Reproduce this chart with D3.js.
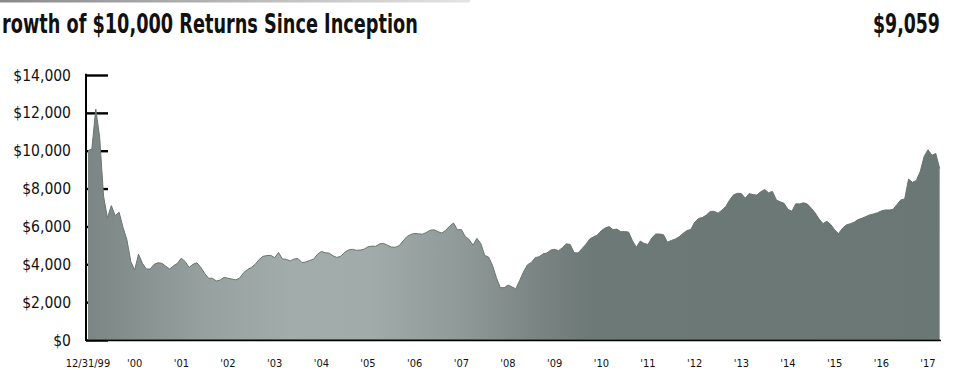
<!DOCTYPE html>
<html>
<head>
<meta charset="utf-8">
<script src="https://cdn.jsdelivr.net/npm/d3@7/dist/d3.min.js"></script>
<style>
  html, body { margin: 0; padding: 0; background: #fff; }
  svg { display: block; }
</style>
</head>
<body>
<svg id="chart" width="958" height="370"></svg>
<script>
// Monthly account value of a $10,000 investment, starting 12/31/99
const values = [
  10000, 10100, 12200, 10700, 7600, 6450, 7100, 6570, 6750, 5950, 5300, 4150,
  3700, 4530, 4050, 3750, 3750, 4000, 4080, 4050, 3900, 3750, 3920, 4050,
  4320, 4140, 3830, 4000, 4080, 3840, 3520, 3260, 3260, 3120, 3170, 3310,
  3260, 3220, 3180, 3270, 3550, 3720, 3830, 4000, 4250, 4420, 4460, 4470,
  4350, 4620, 4280, 4260, 4180, 4280, 4300, 4090, 4120, 4200, 4270, 4530,
  4680, 4610, 4590, 4450, 4360, 4430, 4630, 4760, 4790, 4740, 4750, 4800,
  4920, 4960, 4950, 5080, 5100, 5010, 4910, 4900, 4980, 5230, 5460, 5580,
  5630, 5610, 5590, 5680, 5800, 5820, 5720, 5650, 5800, 6020, 6180, 5820,
  5840, 5470, 5310, 5010, 5370, 5100, 4470, 4380, 3950, 3300, 2770, 2760,
  2900, 2810, 2700, 3150, 3600, 3970, 4100, 4350, 4400, 4550, 4600, 4750,
  4790, 4720, 4880, 5080, 5050, 4610, 4600, 4820, 5050, 5330, 5450, 5550,
  5780, 5920, 5990, 5830, 5860, 5720, 5730, 5700, 5250, 4900, 5230, 5100,
  5050, 5400, 5600, 5600, 5560, 5170, 5260, 5330, 5450, 5630, 5780, 5840,
  6220, 6420, 6470, 6600, 6790, 6800, 6700, 6860, 7050, 7400, 7670, 7750,
  7740, 7490, 7740, 7680, 7660, 7830, 7950, 7780, 7850, 7400, 7300, 7220,
  6900, 6800, 7200, 7190, 7250, 7180, 6960, 6710, 6390, 6150, 6270, 6100,
  5820, 5620, 5900, 6080, 6140, 6220, 6360, 6430, 6520, 6610, 6660, 6720,
  6820, 6870, 6870, 6900, 7150, 7400, 7450, 8500, 8330, 8430, 8900, 9700,
  10050, 9760, 9850, 9059
];

const xTickLabels = ["12/31/99", "'00", "'01", "'02", "'03", "'04", "'05", "'06", "'07", "'08",
                     "'09", "'10", "'11", "'12", "'13", "'14", "'15", "'16", "'17"];
const yTicks = [0, 2000, 4000, 6000, 8000, 10000, 12000, 14000];

const titleText = "rowth of $10,000 Returns Since Inception";
const endingValue = 9059;

const svg = d3.select("#chart");

const x = d3.scaleLinear().domain([0, 216]).range([88, 928]);
const y = d3.scaleLinear().domain([0, 14000]).range([340, 75]);

const defs = svg.append("defs");

// thin rule across the top of the panel
const ruleGrad = defs.append("linearGradient").attr("id", "ruleGrad")
  .attr("x1", "0%").attr("x2", "100%");
ruleGrad.append("stop").attr("offset", "0%").attr("stop-color", "#8a8a8a");
ruleGrad.append("stop").attr("offset", "100%").attr("stop-color", "#e4e4e4");
svg.append("rect").attr("x", 0).attr("y", 0).attr("width", 470).attr("height", 2.5)
  .attr("fill", "url(#ruleGrad)");

// area shading
const areaGrad = defs.append("linearGradient").attr("id", "areaGrad")
  .attr("gradientUnits", "userSpaceOnUse")
  .attr("x1", 88).attr("y1", 0).attr("x2", 940).attr("y2", 0);
[
  [0.00, "#7b8684"],
  [0.14, "#97a19f"],
  [0.24, "#a2acaa"],
  [0.33, "#a1aba9"],
  [0.44, "#8f9a98"],
  [0.52, "#7c8785"],
  [0.59, "#6d7977"],
  [1.00, "#6b7775"]
].forEach(([o, c]) => areaGrad.append("stop").attr("offset", o).attr("stop-color", c));

// title row, narrow bold face stretched to the panel's heading width
const fontBold = "'Liberation Sans Narrow', 'DejaVu Sans Condensed', sans-serif";
function fitText(sel, x0, width) {
  const w = sel.node().getComputedTextLength();
  sel.attr("transform", `translate(${x0},0) scale(${width / w},1)`);
}
const title = svg.append("text")
  .attr("y", 33)
  .attr("font-family", fontBold)
  .attr("font-weight", "bold")
  .attr("font-size", 26)
  .attr("fill", "#111")
  .text(titleText);
fitText(title, 2, 416);

const valText = svg.append("text")
  .attr("y", 33)
  .attr("font-family", fontBold)
  .attr("font-weight", "bold")
  .attr("font-size", 26)
  .attr("fill", "#111")
  .text(d3.format("$,")(endingValue));
fitText(valText, 873, 67);

// y axis: inner ticks with labels to the left
const yAxis = d3.axisRight(y).tickValues(yTicks).tickSize(22).tickFormat("");
const yg = svg.append("g").attr("transform", "translate(86,0)").call(yAxis);
yg.select(".domain").remove();
yg.selectAll(".tick line").attr("stroke", "#000").attr("stroke-width", 2.4);
svg.append("line")
  .attr("x1", 86).attr("x2", 86).attr("y1", y(14000) - 1.2).attr("y2", 341)
  .attr("stroke", "#000").attr("stroke-width", 2);
svg.append("line")
  .attr("x1", 86).attr("x2", 941).attr("y1", 340.5).attr("y2", 340.5)
  .attr("stroke", "#000").attr("stroke-width", 1.5);

svg.append("g").selectAll("text").data(yTicks).join("text")
  .attr("x", 71)
  .attr("y", d => y(d))
  .attr("dy", "0.36em")
  .attr("text-anchor", "end")
  .attr("font-family", "'DejaVu Sans Condensed', 'Liberation Sans Narrow', sans-serif")
  .attr("font-size", 15.5)
  .attr("fill", "#111")
  .text(d => d3.format("$,")(d));

// area
const area = d3.area()
  .x((d, i) => x(i))
  .y0(y(0))
  .y1(d => y(d));
svg.append("path").datum(values)
  .attr("d", area)
  .attr("fill", "url(#areaGrad)");
svg.append("path").datum(values)
  .attr("d", d3.line().x((d, i) => x(i)).y(d => y(d)))
  .attr("fill", "none")
  .attr("stroke", "#6a7573")
  .attr("stroke-width", 1);
svg.append("line")
  .attr("x1", x(0)).attr("x2", x(values.length - 1)).attr("y1", 339.5).attr("y2", 339.5)
  .attr("stroke", "#4c5453").attr("stroke-width", 1.2);

// x labels at each year end
svg.append("g").selectAll("text").data(xTickLabels).join("text")
  .attr("x", (d, i) => x(i * 12))
  .attr("y", 367)
  .attr("text-anchor", "middle")
  .attr("font-family", "'DejaVu Sans Condensed', 'Liberation Sans Narrow', sans-serif")
  .attr("font-size", 11)
  .attr("fill", "#111")
  .text(d => d);
</script>
</body>
</html>
